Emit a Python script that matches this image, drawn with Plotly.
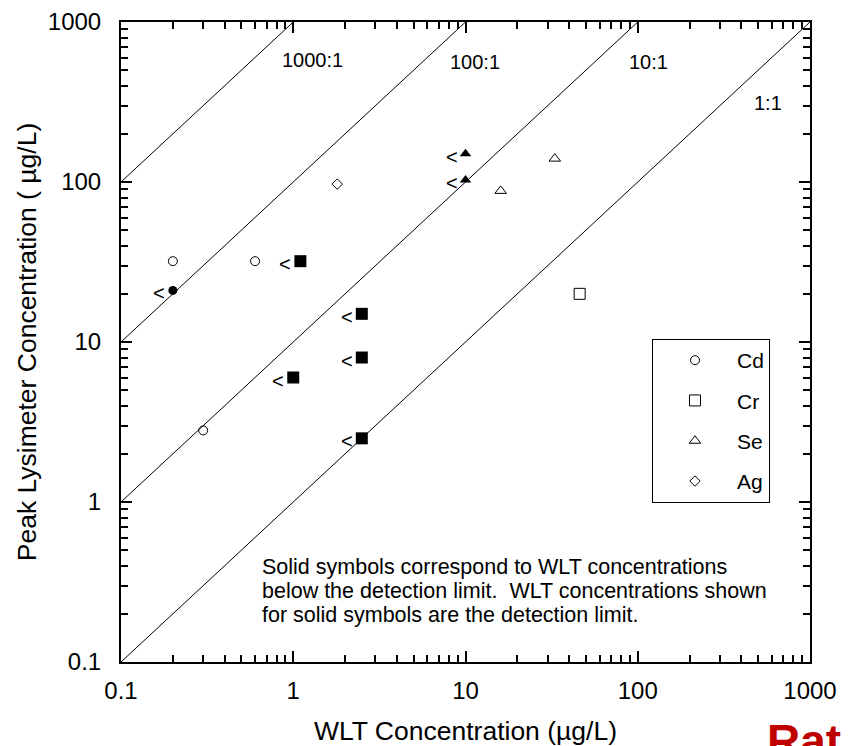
import math
import plotly.graph_objects as go

# values (ug/L)
cd_open_x = [0.2, 0.6, 0.3]
cd_open_y = [32, 32, 2.8]
cd_solid_x = [0.2]
cd_solid_y = [21]

cr_open_x = [46]
cr_open_y = [20]
cr_solid_x = [1.1, 2.5, 2.5, 1.0, 2.5]
cr_solid_y = [32, 15, 8, 6, 2.5]

se_open_x = [16, 33]
se_open_y = [88, 140]
se_solid_x = [10, 10]
se_solid_y = [150, 103]

ag_open_x = [1.8]
ag_open_y = [97]

ratios = [1000, 100, 10, 1]
ratio_labels = ["1000:1", "100:1", "10:1", "1:1"]

tick_vals = [0.1, 1, 10, 100, 1000]
tick_text = ["0.1", "1", "10", "100", "1000"]

note_lines = ["Solid symbols correspond to WLT concentrations",
              "below the detection limit.  WLT concentrations shown",
              "for solid symbols are the detection limit."]

FONT = "Liberation Sans, Arial, sans-serif"

fig = go.Figure()

# ratio lines y = r * x, clipped to the 0.1..1000 box
for r in ratios:
    fig.add_trace(go.Scatter(x=[0.1, 1000 / r], y=[0.1 * r, 1000],
                             mode="lines", line=dict(color="black", width=1),
                             showlegend=False, hoverinfo="skip"))

series = [
    ("Cd", cd_open_x, cd_open_y, cd_solid_x, cd_solid_y, "circle", 9, 9),
    ("Cr", cr_open_x, cr_open_y, cr_solid_x, cr_solid_y, "square", 11, 12),
    ("Se", se_open_x, se_open_y, se_solid_x, se_solid_y, "triangle-up", 10, 10),
    ("Ag", ag_open_x, ag_open_y, [], [], "diamond", 8, 8),
]

annotations = []
for name, ox, oy, sx, sy, sym, osize, ssize in series:
    fig.add_trace(go.Scatter(x=ox, y=oy, mode="markers", name=name,
                             legendgroup=name,
                             marker=dict(symbol=sym + "-open", size=osize,
                                         color="black", line=dict(width=1))))
    if sx:
        fig.add_trace(go.Scatter(x=sx, y=sy, mode="markers", name=name,
                                 legendgroup=name, showlegend=False,
                                 marker=dict(symbol=sym, size=ssize, color="black")))
        # "<" flags for values below detection limit
        for xv, yv in zip(sx, sy):
            annotations.append(dict(x=math.log10(xv), y=math.log10(yv), xref="x", yref="y",
                                    text="<", showarrow=False, xanchor="right",
                                    xshift=-(ssize / 2 + 1), yshift=-3,
                                    font=dict(family=FONT, size=20, color="black")))

label_pos = [(0.109, 2.76), (1.055, 2.75), (2.065, 2.75), (2.756, 2.494)]
for lab, (lx, ly) in zip(ratio_labels, label_pos):
    annotations.append(dict(x=lx, y=ly, xref="x", yref="y", text=lab, showarrow=False,
                            font=dict(family=FONT, size=20, color="black")))

# note, one annotation per line to keep the tight line spacing
for i, line in enumerate(note_lines):
    annotations.append(dict(x=-0.193, y=-0.406 - 0.15 * i, xref="x", yref="y",
                            xanchor="left", yanchor="middle", showarrow=False,
                            text=line, font=dict(family=FONT, size=21.5, color="black")))

annotations.append(dict(x=0.9347, y=-0.08, xref="paper", yref="paper",
                        xanchor="left", yanchor="top", showarrow=False,
                        text="<b>Ratio</b>", font=dict(family=FONT, size=46, color="#c00000")))

minor_vals = [m * 10 ** e for e in range(-1, 3) for m in range(2, 10)]

axis_common = dict(type="log", range=[-1, 3], tickmode="array", tickvals=tick_vals,
                   ticktext=tick_text, ticks="inside", ticklen=11, tickwidth=2,
                   tickcolor="black", showline=True, linewidth=2, linecolor="black",
                   mirror="ticks", showgrid=False, zeroline=False, automargin=False,
                   tickfont=dict(family=FONT, size=24, color="black"),
                   minor=dict(tickmode="array", tickvals=minor_vals, ticks="inside",
                              ticklen=7, tickwidth=1.5, tickcolor="black", showgrid=False))

fig.update_xaxes(**axis_common, ticklabelstandoff=6,
                 title=dict(text="WLT Concentration (\u00b5g/L)", standoff=20,
                            font=dict(family=FONT, size=26.5, color="black")))
fig.update_yaxes(**axis_common, ticklabelstandoff=13,
                 title=dict(text="Peak Lysimeter Concentration ( \u00b5g/L)", standoff=4,
                            font=dict(family=FONT, size=26.5, color="black")))

# page body adds an 8px offset, so the figure is a bit smaller than the window
fig.update_layout(
    width=842, height=738,
    margin=dict(l=113, r=40, t=14, b=84),
    paper_bgcolor="white", plot_bgcolor="white",
    font=dict(family=FONT, color="black"),
    annotations=annotations,
    legend=dict(x=0.7707, y=0.5047, xanchor="left", yanchor="top",
                bordercolor="black", borderwidth=1, bgcolor="white",
                font=dict(family=FONT, size=21, color="black"),
                itemwidth=74, tracegroupgap=10, traceorder="grouped"),
)

fig.write_html("out.html")
